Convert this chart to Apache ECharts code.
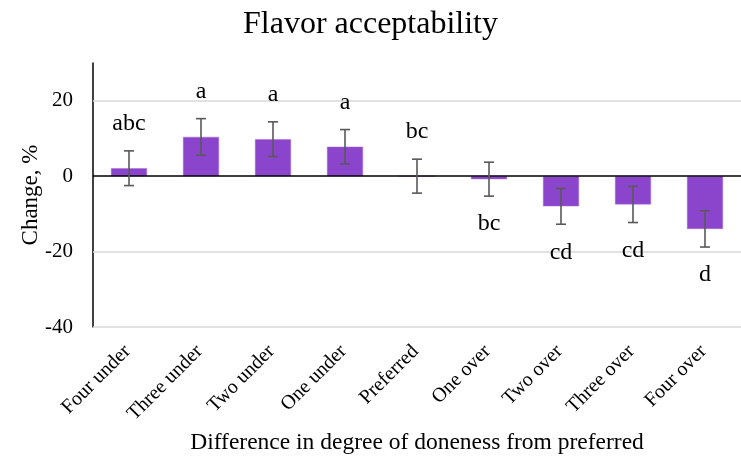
<!DOCTYPE html>
<html>
<head>
<meta charset="utf-8">
<script src="https://cdn.jsdelivr.net/npm/echarts@6/dist/echarts.min.js"></script>
<style>html,body{margin:0;padding:0;background:#fff;}#chart{width:741px;height:464px;}</style>
</head>
<body>
<div id="chart"></div>
<script>
const categories = ['Four under','Three under','Two under','One under','Preferred','One over','Two over','Three over','Four over'];
const means = [2.1, 10.4, 9.8, 7.8, 0, -0.8, -8.0, -7.5, -14.0];
const errors = [4.6, 4.85, 4.6, 4.55, 4.5, 4.5, 4.75, 4.8, 4.8];
const letters = ['abc','a','a','a','bc','bc','cd','cd','d'];
const yTicks = [-40, -20, 0, 20];

const FONT = '"Liberation Serif", "Times New Roman", serif';
const chart = echarts.init(document.getElementById('chart'));
const errData = categories.map((c, i) => [i, means[i] - errors[i], means[i] + errors[i], means[i]]);

chart.setOption({
  animation: false,
  backgroundColor: '#fff',
  title: {
    text: 'Flavor acceptability', left: 'center', top: 4,
    textStyle: { fontFamily: FONT, fontSize: 32, fontWeight: 'normal', color: '#000' }
  },
  grid: { left: 93, right: 0, top: 63, bottom: 137 },
  xAxis: {
    type: 'category', data: categories,
    axisLine: { show: false, onZero: false },
    axisTick: { show: false },
    axisLabel: { interval: 0, rotate: 45, margin: 20, padding: [0, 2, 0, 0], fontFamily: FONT, fontSize: 20, color: '#000' },
    name: 'Difference in degree of doneness from preferred',
    nameLocation: 'middle', nameGap: 104, nameMoveOverlap: false,
    nameTextStyle: { fontFamily: FONT, fontSize: 23.5, color: '#000' }
  },
  yAxis: {
    type: 'value', min: -40, max: 30, interval: 10,
    axisLine: { show: true, lineStyle: { color: '#000', width: 1.5 } },
    axisTick: { show: false },
    splitLine: { show: false },
    axisLabel: {
      margin: 20, fontFamily: FONT, fontSize: 21, color: '#000',
      formatter: v => (yTicks.indexOf(v) >= 0 ? String(v) : '')
    },
    name: 'Change, %', nameLocation: 'middle', nameGap: 51, nameRotate: 90, nameMoveOverlap: false,
    nameTextStyle: { fontFamily: FONT, fontSize: 23, color: '#000' }
  },
  series: [
    {
      type: 'bar', data: means, barWidth: '50%',
      itemStyle: { color: '#8B45CC', borderColor: '#A46FDB', borderWidth: 0.5 },
      markLine: {
        silent: true, symbol: 'none', label: { show: false },
        data: [
          { yAxis: -40, lineStyle: { color: '#d9d9d9', width: 1.5, type: 'solid' } },
          { yAxis: -20, lineStyle: { color: '#d9d9d9', width: 1.5, type: 'solid' } },
          { yAxis: 20, lineStyle: { color: '#d9d9d9', width: 1.5, type: 'solid' } },
          { yAxis: 0, lineStyle: { color: '#000', width: 1.5, type: 'solid' } }
        ]
      }
    },
    {
      type: 'custom', data: errData, z: 5,
      encode: { x: 0, y: [1, 2] },
      renderItem: function (params, api) {
        const i = api.value(0);
        const lo = api.coord([i, api.value(1)]);
        const hi = api.coord([i, api.value(2)]);
        const x = lo[0];
        const cw = 5;
        const st = { stroke: '#595959', lineWidth: 1.6 };
        const up = api.value(3) >= 0;
        const ly = up ? hi[1] - 27 : lo[1] + 28;
        return {
          type: 'group',
          children: [
            { type: 'line', shape: { x1: x, y1: lo[1], x2: x, y2: hi[1] }, style: st },
            { type: 'line', shape: { x1: x - cw, y1: lo[1], x2: x + cw, y2: lo[1] }, style: st },
            { type: 'line', shape: { x1: x - cw, y1: hi[1], x2: x + cw, y2: hi[1] }, style: st },
            { type: 'text', x: x, y: ly, style: { text: letters[params.dataIndex], fontFamily: FONT, fontSize: 24, fill: '#000', align: 'center', verticalAlign: 'middle' } }
          ]
        };
      }
    }
  ]
});
</script>
</body>
</html>
